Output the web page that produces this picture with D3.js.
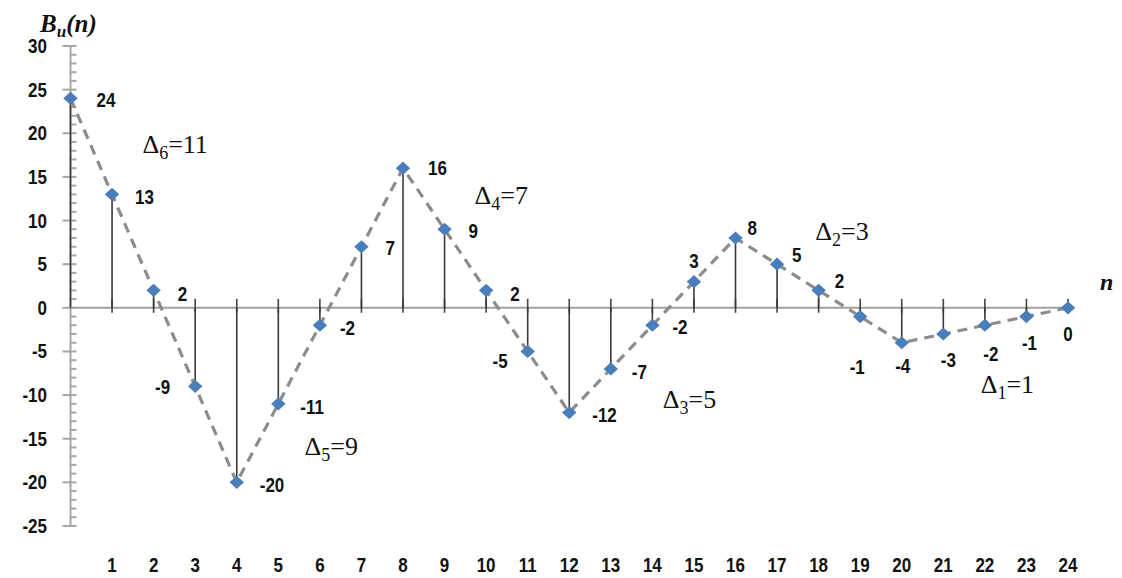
<!DOCTYPE html>
<html><head><meta charset="utf-8">
<script src="https://cdn.jsdelivr.net/npm/d3@7"></script>
<style>body{margin:0;background:#fff}svg{display:block}</style>
</head><body>
<svg id="c" width="1122" height="578"></svg>
<script>
const nValues = d3.range(0, 25);
const bValues = [24, 13, 2, -9, -20, -11, -2, 7, 16, 9, 2, -5, -12, -7, -2, 3, 8, 5, 2, -1, -4, -3, -2, -1, 0];
const yTicks = [30, 25, 20, 15, 10, 5, 0, -5, -10, -15, -20, -25];
const xTickLabels = nValues.slice(1).map(String);
const deltaLabels = [
  {sub: "6", val: "11", n: 1.73, b: 17.7},
  {sub: "5", val: "9", n: 5.63, b: -16.9},
  {sub: "4", val: "7", n: 9.72, b: 11.9},
  {sub: "3", val: "5", n: 14.25, b: -11.5},
  {sub: "2", val: "3", n: 17.92, b: 7.8},
  {sub: "1", val: "1", n: 21.9, b: -9.8}
];
// label placement per point: [dx, dy, anchor]
const labelPlace = [
  [26,9,"start"],[23,10,"start"],[24,11,"start"],[-25,8,"end"],[23,10,"start"],[22,10,"start"],
  [20,10,"start"],[24,8,"start"],[25,7,"start"],[24,9,"start"],[24,11,"start"],[-20,17,"end"],
  [23,9,"start"],[21,10,"start"],[20,9,"start"],[0,-14,"middle"],[12,-3,"start"],[15,-2,"start"],
  [16,-2,"start"],[-3,57,"middle"],[1,30,"middle"],[5,33,"middle"],[6,36,"middle"],[3,33,"middle"],[0,33,"middle"]
];

const svg = d3.select("#c");
const x = d3.scaleLinear().domain([0, 24]).range([70.5, 1068]);
const y = d3.scaleLinear().domain([-25, 30]).range([526, 46]);
const boldFont = "'Liberation Sans', Arial, sans-serif";

function numText(sel) {
  return sel.attr("font-family", boldFont).attr("font-weight", "bold").attr("font-size", 17).attr("fill", "#111");
}

// y axis line
svg.append("line").attr("x1", x(0)).attr("x2", x(0)).attr("y1", y(30)).attr("y2", y(-25))
  .attr("stroke", "#a6a6a6").attr("stroke-width", 2);
d3.range(-25, 31).forEach(v => {
  const major = v % 5 === 0;
  svg.append("line").attr("x1", major ? x(0) - 8 : x(0)).attr("x2", x(0) + 6)
    .attr("y1", y(v)).attr("y2", y(v)).attr("stroke", "#a6a6a6").attr("stroke-width", 2);
});
numText(svg.selectAll(".ytl").data(yTicks).enter().append("text")
  .attr("transform", d => `translate(47,${y(d) + 7}) scale(1,1.2)`).attr("text-anchor", "end"))
  .text(d => d);

// x axis line
svg.append("line").attr("x1", x(0)).attr("x2", x(24)).attr("y1", y(0)).attr("y2", y(0))
  .attr("stroke", "#a0a0a0").attr("stroke-width", 2);
svg.selectAll(".xt").data(nValues.slice(1)).enter().append("line")
  .attr("x1", d => x(d)).attr("x2", d => x(d)).attr("y1", y(0) - 9).attr("y2", y(0) + 5)
  .attr("stroke", "#444").attr("stroke-width", 1.6);
numText(svg.selectAll(".xtl").data(xTickLabels).enter().append("text")
  .attr("transform", (d, i) => `translate(${x(i + 1)},572) scale(1,1.2)`).attr("text-anchor", "middle"))
  .text(d => d);

// stems
svg.selectAll(".stem").data(bValues).enter().append("line")
  .attr("x1", (d, i) => x(i)).attr("x2", (d, i) => x(i)).attr("y1", y(0)).attr("y2", d => y(d))
  .attr("stroke", "#3a3a3a").attr("stroke-width", 1.6);

// dashed line
const line = d3.line().x((d, i) => x(i)).y(d => y(d));
svg.append("path").attr("d", line(bValues)).attr("fill", "none")
  .attr("stroke", "#8c8c8c").attr("stroke-width", 3.2).attr("stroke-dasharray", "10,7");

// markers
svg.selectAll(".m").data(bValues).enter().append("path")
  .attr("d", d3.symbol().type(d3.symbolDiamond).size(50)())
  .attr("transform", (d, i) => `translate(${x(i)},${y(d)}) scale(1.9,1)`)
  .attr("fill", "#4a7ebb");

// value labels
numText(svg.selectAll(".vl").data(bValues).enter().append("text")
  .attr("transform", (d, i) => `translate(${x(i) + labelPlace[i][0]},${y(d) + labelPlace[i][1]}) scale(1,1.2)`)
  .attr("text-anchor", (d, i) => labelPlace[i][2]))
  .text(d => d);

// delta annotations
const serif = "'Liberation Serif', 'Times New Roman', serif";
deltaLabels.forEach(a => {
  const t = svg.append("text").attr("x", x(a.n)).attr("y", y(a.b))
    .attr("font-family", serif).attr("font-size", 26).attr("fill", "#111");
  t.append("tspan").text("Δ");
  t.append("tspan").attr("font-size", 18).attr("dy", 6).text(a.sub);
  t.append("tspan").attr("dy", -6).text("=" + a.val);
});

// axis titles
const yt = svg.append("text").attr("x", 40).attr("y", 32).attr("font-family", serif)
  .attr("font-style", "italic").attr("font-weight", "bold").attr("font-size", 25).attr("fill", "#111");
yt.append("tspan").text("B");
yt.append("tspan").attr("font-size", 17).attr("dy", 5).text("u");
yt.append("tspan").attr("dy", -5).text("(n)");
svg.append("text").attr("x", 1100).attr("y", 290).attr("font-family", serif)
  .attr("font-style", "italic").attr("font-weight", "bold").attr("font-size", 24).attr("fill", "#111").text("n");
</script>
</body></html>
